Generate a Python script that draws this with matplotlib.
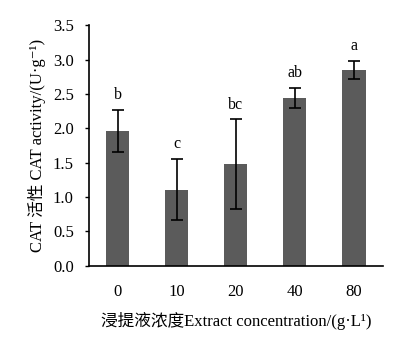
import matplotlib
matplotlib.use('Agg')
import matplotlib.pyplot as plt
import numpy as np

# Data
concentrations = ['0', '10', '20', '40', '80']
cat_activity = [1.96, 1.11, 1.48, 2.44, 2.85]
cat_error = [0.31, 0.44, 0.65, 0.15, 0.13]
letters = ['b', 'c', 'bc', 'ab', 'a']

plt.rcParams['font.family'] = ['Liberation Serif', 'Noto Sans CJK SC', 'DejaVu Serif']

fig = plt.figure(figsize=(4.07, 3.40), dpi=100)
ax = fig.add_axes([0.219, 0.218, 0.722, 0.708])

x = np.arange(len(concentrations))
ax.bar(x, cat_activity, width=0.39, color='#5b5b5b',
       yerr=cat_error, capsize=4,
       error_kw=dict(ecolor='black', elinewidth=1.2, capthick=1.2))

# Significance letters above error bars
for xi, v, e, lab in zip(x, cat_activity, cat_error, letters):
    ax.text(xi, v + e + 0.1, lab, ha='center', va='bottom', fontsize=11.5)

ax.set_xlim(-0.48, 4.49)
ax.set_ylim(0, 3.5)
ticks = np.arange(0, 3.51, 0.5)
ax.set_yticks(ticks)
ax.set_yticklabels([f'{t:.1f}' for t in ticks])
ax.set_xticks(x)
ax.set_xticklabels(concentrations)

ax.spines['top'].set_visible(False)
ax.spines['right'].set_visible(False)
for s in ['left', 'bottom']:
    ax.spines[s].set_linewidth(1.2)

ax.tick_params(axis='y', direction='out', length=3, width=1, pad=8, labelsize=12)
ax.tick_params(axis='x', length=0, pad=13, labelsize=12)

ax.set_ylabel('CAT 活性 CAT activity/(U·g⁻¹)', fontsize=12, labelpad=5)
ax.set_xlabel('浸提液浓度Extract concentration/(g·L¹)', fontsize=12, labelpad=9)

plt.savefig('out.png', dpi=100)
